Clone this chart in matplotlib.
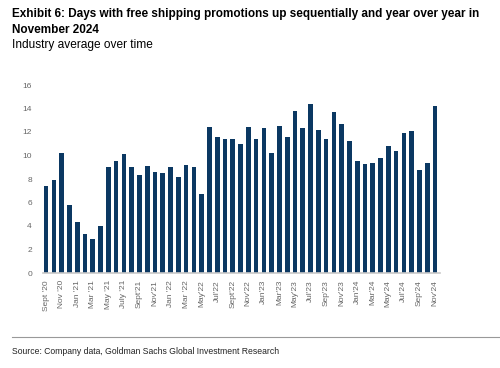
import matplotlib
matplotlib.use('Agg')
from matplotlib import pyplot as plt

# monthly industry average, Sept 2020 .. Nov 2024
days = [7.4, 7.9, 10.2, 5.8, 4.3, 3.3, 2.9, 4.0,
        9.0, 9.5, 10.1, 9.0, 8.3, 9.1, 8.6, 8.5,
        9.0, 8.2, 9.2, 9.0, 6.7, 12.4, 11.6, 11.4,
        11.4, 11.0, 12.4, 11.4, 12.3, 10.2, 12.5, 11.6,
        13.8, 12.3, 14.4, 12.2, 11.4, 13.7, 12.7, 11.2,
        9.5, 9.3, 9.4, 9.8, 10.8, 10.4, 11.9, 12.1,
        8.8, 9.4, 14.2]
tick_labels = ["Sept '20", "Nov '20", "Jan '21", "Mar '21", "May '21", "July '21",
               "Sept'21", "Nov'21", "Jan '22", "Mar '22", "May'22", "Jul'22",
               "Sept'22", "Nov'22", "Jan'23", "Mar'23", "May'23", "Jul'23",
               "Sep'23", "Nov'23", "Jan'24", "Mar'24", "May'24", "Jul'24",
               "Sep'24", "Nov'24"]

plt.rcParams['font.family'] = ['Liberation Sans', 'DejaVu Sans']

W, H = 500, 368
fig = plt.figure(figsize=(W / 100, H / 100), dpi=100)
renderer = fig.canvas.get_renderer()


def fit_text(y, s, width_px, size, **kw):
    # the reference uses a condensed face; shrink to the same line width
    t = fig.text(12 / W, 1 - y / H, s, fontsize=size, ha='left', va='baseline', **kw)
    w = t.get_window_extent(renderer).width
    if w > width_px:
        t.set_fontsize(size * width_px / w)
    return t


ax = fig.add_axes([43 / W, (H - 273) / H, 397 / W, 188 / H])
x = list(range(len(days)))
ax.bar(x, days, width=0.6, color='#0b3862')
ax.set_xlim(-0.4, len(days) - 0.35)
ax.set_ylim(0, 16)
ax.set_yticks(range(0, 17, 2))
ax.set_xticks(x[::2])
ax.set_xticklabels(tick_labels, rotation=90)
ax.tick_params(axis='both', length=0, labelsize=6, labelcolor='#666666')
ax.tick_params(axis='y', pad=8)
ax.tick_params(axis='x', pad=5)
for s in ['top', 'right', 'left']:
    ax.spines[s].set_visible(False)
ax.spines['bottom'].set_color('#c8c8c8')
ax.spines['bottom'].set_linewidth(1.2)

t1 = fit_text(17, 'Exhibit 6: Days with free shipping promotions up sequentially and year over year in',
              471, 10.5, fontweight='bold')
fig.text(12 / W, 1 - 33 / H, 'November 2024', fontsize=t1.get_fontsize(),
         fontweight='bold', ha='left', va='baseline')
fit_text(48, 'Industry average over time', 141, 9.5)

fig.add_artist(plt.Line2D([12 / W, 1], [1 - 337 / H, 1 - 337 / H],
                          color='#999999', linewidth=0.8))
fit_text(354, 'Source: Company data, Goldman Sachs Global Investment Research',
         267, 8, color='#222222')

fig.savefig('out.png', dpi=100)
